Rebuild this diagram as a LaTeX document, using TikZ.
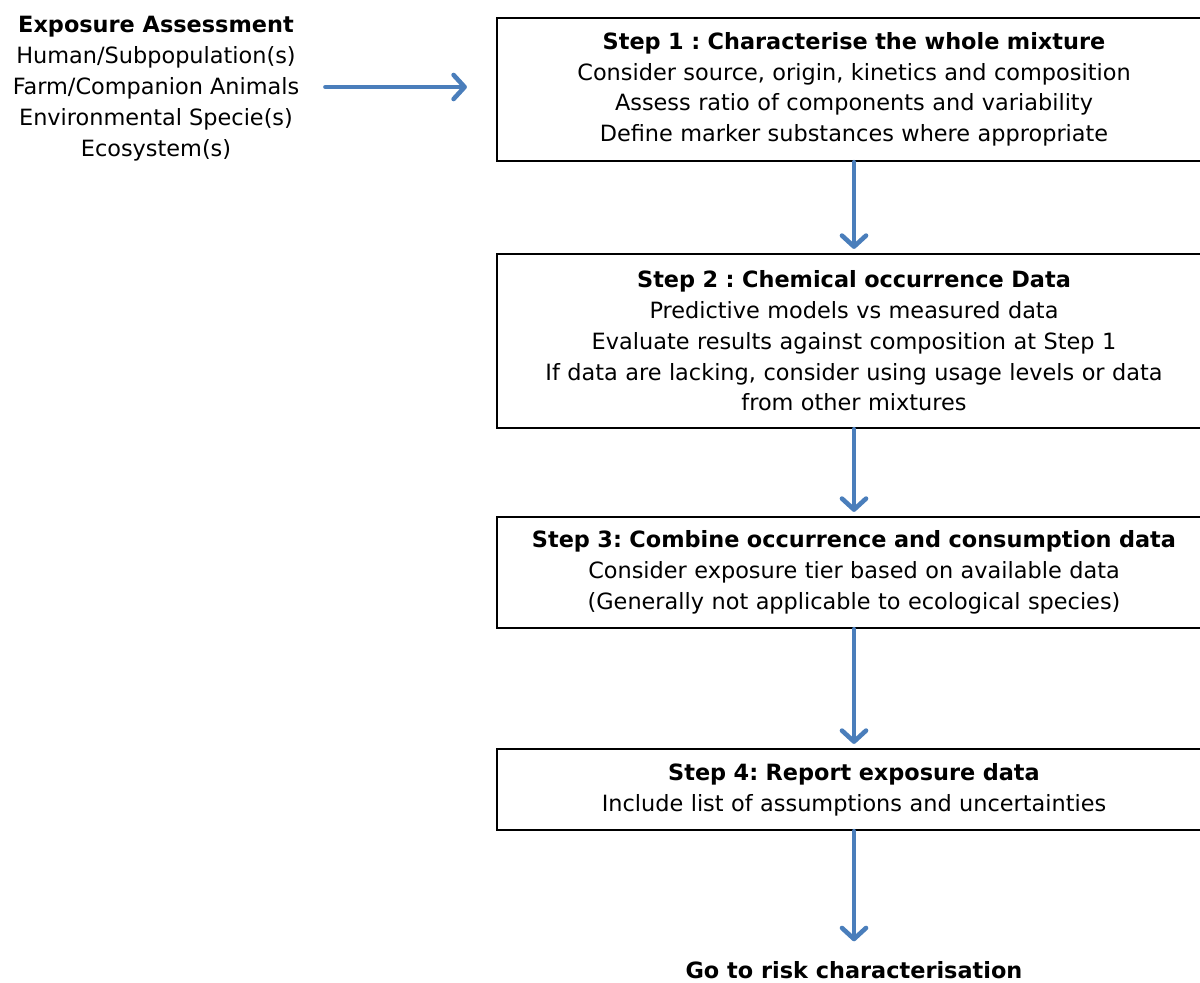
\documentclass[tikz,border=0pt]{standalone}
\usepackage{fontspec}
\setmainfont{DejaVu Sans}
\usetikzlibrary{arrows.meta}
\definecolor{arrowblue}{RGB}{74,126,187}
\frenchspacing
\begin{document}
\begin{tikzpicture}[x=1pt,y=-1pt,
  every node/.style={font=\fontsize{22.4}{31}\selectfont, inner sep=0pt},
  stepbox/.style={draw=black, line width=2.2pt, minimum width=714pt, align=center, text width=710pt},
  arr/.style={draw=arrowblue, line width=4.6pt, line cap=round,
    -{Straight Barb[length=11pt,width=24pt,line cap=round,line join=round]}},
]
\useasboundingbox (0,0) rectangle (1200,983);
\node[align=center] (left) at (156,88.5) {\textbf{Exposure Assessment}\\Human/Subpopulation(s)\\Farm/Companion Animals\\Environmental Specie(s)\\Ecosystem(s)};

\node[stepbox, minimum height=143pt, font=\fontsize{22.4}{30.5}\selectfont] (s1) at (854,89.5) {\textbf{Step 1 : Characterise the whole mixture}\\Consider source, origin, kinetics and composition\\Assess ratio of components and variability\\Define marker substances where appropriate};
\node[stepbox, minimum height=174pt, font=\fontsize{22.4}{30.8}\selectfont] (s2) at (854,341) {\textbf{Step 2 : Chemical occurrence Data}\\Predictive models vs measured data\\Evaluate results against composition at Step 1\\If data are lacking, consider using usage levels or data\\from other mixtures};
\node[stepbox, minimum height=111pt, font=\fontsize{22.4}{31}\selectfont] (s3) at (854,572.5) {\textbf{Step 3: Combine occurrence and consumption data}\\Consider exposure tier based on available data\\(Generally not applicable to ecological species)};
\node[stepbox, minimum height=81pt, font=\fontsize{22.4}{31}\selectfont] (s4) at (854,789.5) {\textbf{Step 4: Report exposure data}\\Include list of assumptions and uncertainties};
\node[anchor=base] (goal) at (854,978.5) {\textbf{Go to risk characterisation}};

\draw[arr] ([xshift=26pt,yshift=1.5pt]left.east) -- ([xshift=-29pt,yshift=2.5pt]s1.west);
\draw[arr] (s1.south) -- ([yshift=4pt]s2.north);
\draw[arr] (s2.south) -- ([yshift=4pt]s3.north);
\draw[arr] (s3.south) -- ([yshift=4pt]s4.north);
\draw[arr] (s4.south) -- ([yshift=20pt]goal.north);
\end{tikzpicture}
\end{document}
